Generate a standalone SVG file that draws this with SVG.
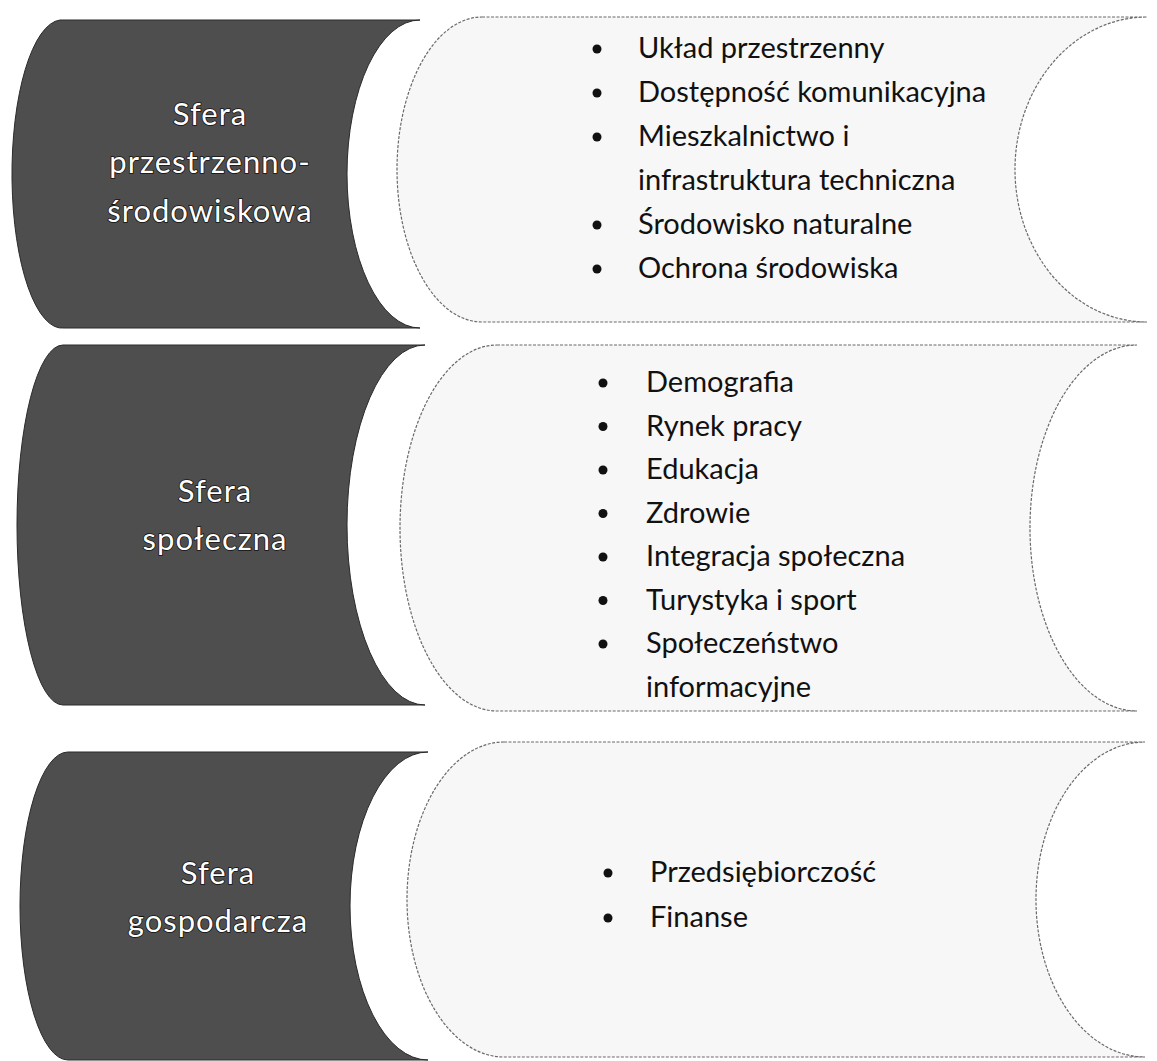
<svg xmlns="http://www.w3.org/2000/svg" width="1157" height="1061" viewBox="0 0 1157 1061">
<style>
.dark{fill:#4e4e4e;stroke:#2a2a2a;stroke-width:1}
.light{fill:#f7f7f7;stroke:#6a6a6a;stroke-width:1.2;stroke-dasharray:3 1.5}
.lbl{font-family:Lato,"Liberation Sans",sans-serif;font-size:31px;fill:#ffffff;stroke:#111;stroke-width:1.6;paint-order:stroke;text-anchor:middle;letter-spacing:1px}
.item{font-family:Lato,"Liberation Sans",sans-serif;font-size:29px;fill:#111}
.bul{fill:#111}
</style>
<rect width="1157" height="1061" fill="#ffffff"/>
<g id="row1">
  <g id="sfera-przestrzenno">
    <path class="dark" d="M60,20 H420 A73,154 0 0 0 420,328 H64 A50,154 0 0 1 60,20 Z"/>
    <text class="lbl" x="210" y="125">Sfera</text>
    <text class="lbl" x="210" y="173">przestrzenno-</text>
    <text class="lbl" x="210" y="222">środowiskowa</text>
  </g>
  <g id="lista1">
    <path class="light" d="M482,17 H1147 A132,152.5 0 0 0 1147,322 H482 A85,152.5 0 0 1 482,17 Z"/>
    <circle class="bul" cx="597" cy="49" r="4.5"/>
    <circle class="bul" cx="597" cy="93" r="4.5"/>
    <circle class="bul" cx="597" cy="137" r="4.5"/>
    <circle class="bul" cx="597" cy="225" r="4.5"/>
    <circle class="bul" cx="597" cy="269" r="4.5"/>
    <text class="item" x="638" y="58">Układ przestrzenny</text>
    <text class="item" x="638" y="102">Dostępność komunikacyjna</text>
    <text class="item" x="638" y="146">Mieszkalnictwo i</text>
    <text class="item" x="638" y="190">infrastruktura techniczna</text>
    <text class="item" x="638" y="234">Środowisko naturalne</text>
    <text class="item" x="638" y="278">Ochrona środowiska</text>
  </g>
</g>
<g id="row2">
  <g id="sfera-spoleczna">
    <path class="dark" d="M63,345 H425 A78,180 0 0 0 425,705 H63 A46,180 0 0 1 63,345 Z"/>
    <text class="lbl" x="215" y="502">Sfera</text>
    <text class="lbl" x="215" y="550">społeczna</text>
  </g>
  <g id="lista2">
    <path class="light" d="M497,345 H1137 A107,183 0 0 0 1137,711 H497 A97,183 0 0 1 497,345 Z"/>
    <circle class="bul" cx="603" cy="383" r="4.5"/>
    <circle class="bul" cx="603" cy="426.5" r="4.5"/>
    <circle class="bul" cx="603" cy="470" r="4.5"/>
    <circle class="bul" cx="603" cy="513.5" r="4.5"/>
    <circle class="bul" cx="603" cy="557" r="4.5"/>
    <circle class="bul" cx="603" cy="600.5" r="4.5"/>
    <circle class="bul" cx="603" cy="644" r="4.5"/>
    <text class="item" x="646" y="392">Demografia</text>
    <text class="item" x="646" y="435.5">Rynek pracy</text>
    <text class="item" x="646" y="479">Edukacja</text>
    <text class="item" x="646" y="522.5">Zdrowie</text>
    <text class="item" x="646" y="566">Integracja społeczna</text>
    <text class="item" x="646" y="609.5">Turystyka i sport</text>
    <text class="item" x="646" y="653">Społeczeństwo</text>
    <text class="item" x="646" y="696.5">informacyjne</text>
  </g>
</g>
<g id="row3">
  <g id="sfera-gospodarcza">
    <path class="dark" d="M68,752 H428 A78,154 0 0 0 428,1060 H68 A48,154 0 0 1 68,752 Z"/>
    <text class="lbl" x="218" y="884">Sfera</text>
    <text class="lbl" x="218" y="932">gospodarcza</text>
  </g>
  <g id="lista3">
    <path class="light" d="M504,742 H1145 A109,157.5 0 0 0 1145,1057 H504 A97,157.5 0 0 1 504,742 Z"/>
    <circle class="bul" cx="608" cy="873" r="4.5"/>
    <circle class="bul" cx="608" cy="918" r="4.5"/>
    <text class="item" x="650" y="882">Przedsiębiorczość</text>
    <text class="item" x="650" y="927">Finanse</text>
  </g>
</g>
<g id="connectors"/>
</svg>
